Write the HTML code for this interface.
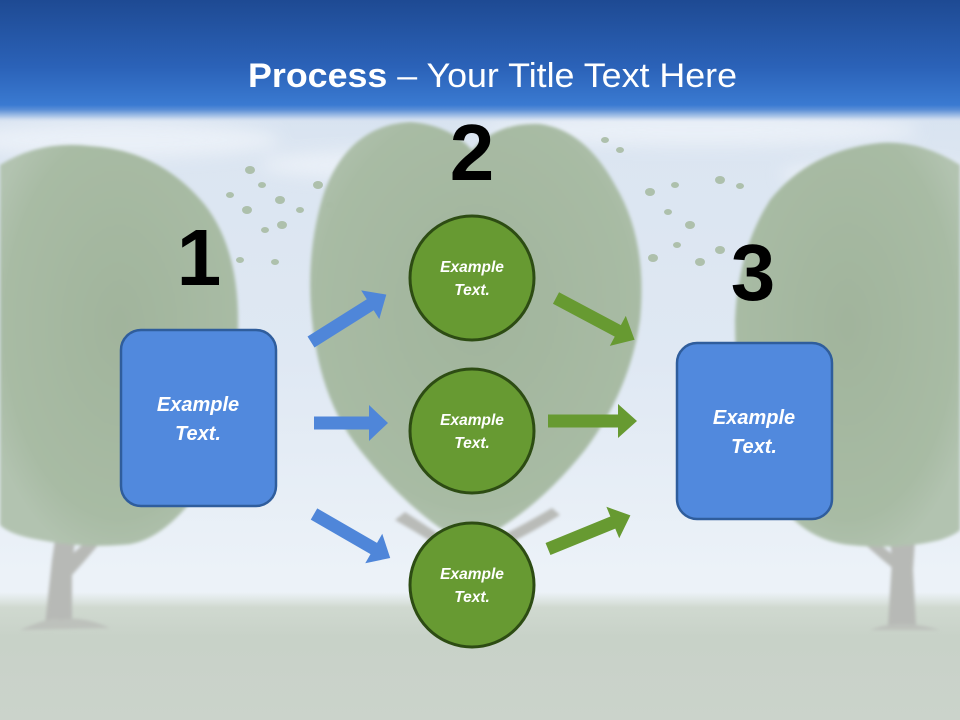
<!DOCTYPE html>
<html><head><meta charset="utf-8"><style>
html,body{margin:0;padding:0;width:960px;height:720px;overflow:hidden;background:#e6eef6;}
svg{display:block}
</style></head><body>
<svg width="960" height="720" viewBox="0 0 960 720" xmlns="http://www.w3.org/2000/svg">
<defs>
<linearGradient id="sky" x1="0" y1="0" x2="0" y2="1">
<stop offset="0" stop-color="#c9d9ee"/>
<stop offset="0.2" stop-color="#dbe5f1"/>
<stop offset="0.5" stop-color="#dfe8f3"/>
<stop offset="0.8" stop-color="#ecf2f8"/>
<stop offset="1" stop-color="#eef3f7"/>
</linearGradient>
<linearGradient id="hdr" x1="0" y1="0" x2="0" y2="1">
<stop offset="0" stop-color="#1e4a93"/>
<stop offset="0.55" stop-color="#2b62b8"/>
<stop offset="0.86" stop-color="#3a7ad1"/>
<stop offset="0.9" stop-color="#5c8fd6"/>
<stop offset="0.96" stop-color="#b4cbea"/>
<stop offset="1" stop-color="#d3dff0" stop-opacity="0"/>
</linearGradient>
<linearGradient id="grass" x1="0" y1="0" x2="0" y2="1">
<stop offset="0" stop-color="#d3dcd3" stop-opacity="0"/>
<stop offset="0.12" stop-color="#d0d9d0"/>
<stop offset="0.35" stop-color="#c8d2c8"/>
<stop offset="1" stop-color="#cbd3cb"/>
</linearGradient>
<radialGradient id="canopy" cx="0.5" cy="0.45" r="0.6">
<stop offset="0" stop-color="#a1b49c"/>
<stop offset="0.8" stop-color="#a8bba4"/>
<stop offset="1" stop-color="#b2c3b0"/>
</radialGradient>
<filter id="soft" x="-5%" y="-5%" width="110%" height="110%"><feGaussianBlur stdDeviation="1.5"/></filter>
<filter id="cloud" x="-20%" y="-50%" width="140%" height="200%"><feGaussianBlur stdDeviation="8"/></filter>
</defs>

<!-- sky -->
<rect x="0" y="0" width="960" height="720" fill="url(#sky)"/>
<g filter="url(#cloud)" fill="#eef3f9" opacity="0.8">
<ellipse cx="120" cy="140" rx="160" ry="18"/>
<ellipse cx="700" cy="130" rx="220" ry="16"/>
<ellipse cx="380" cy="165" rx="120" ry="14"/>
<ellipse cx="880" cy="175" rx="100" ry="14"/>
</g>

<!-- grass -->
<rect x="0" y="592" width="960" height="128" fill="url(#grass)"/>

<!-- left tree -->
<g filter="url(#soft)">
<path d="M45,625 L52,560 L55,540 L75,540 L72,565 L72,625 Z" fill="#b7b9b6"/>
<path d="M65,560 Q90,540 110,515 L118,520 Q95,550 72,575 Z" fill="#b7b9b6"/>
<path d="M20,630 Q55,615 60,620 Q80,615 110,628 Z" fill="#bdc1bc"/>
<path d="M0,165 Q40,140 90,146 Q160,150 205,205 Q240,250 238,330 Q236,420 200,490 Q160,545 120,545 Q80,548 40,540 Q10,535 0,525 Z" fill="url(#canopy)"/>
</g>

<!-- right tree -->
<g filter="url(#soft)">
<path d="M888,625 L892,560 L890,540 L915,540 L913,570 L916,625 Z" fill="#b7b9b6"/>
<path d="M895,570 Q870,550 850,530 L858,525 Q880,545 900,560 Z" fill="#b7b9b6"/>
<path d="M870,630 Q900,618 940,630 Z" fill="#bdc1bc"/>
<path d="M960,165 Q920,140 880,143 Q810,150 770,200 Q738,250 735,320 Q735,420 770,490 Q800,540 850,545 Q900,550 940,540 Q955,535 960,530 Z" fill="url(#canopy)"/>
</g>

<!-- center tree (heart) -->
<g filter="url(#soft)">
<path d="M460,560 L455,520 L480,520 L478,560 Z" fill="#b9bbb8"/>
<path d="M395,520 Q430,540 460,560 L465,552 Q430,528 405,512 Z" fill="#b9bbb8"/>
<path d="M560,515 Q520,540 478,558 L476,548 Q515,530 552,508 Z" fill="#b9bbb8"/>
<path d="M472,150 Q450,125 410,122 Q350,125 325,190 Q305,250 312,320 Q320,400 360,450 Q400,500 440,528 Q470,545 500,528 Q545,500 585,450 Q630,390 640,320 Q648,240 615,185 Q585,130 540,124 Q498,122 472,150 Z" fill="url(#canopy)"/>
</g>

<!-- flying leaves -->
<g fill="#a9bca5" opacity="0.9">
<ellipse cx="250" cy="170" rx="5" ry="4"/><ellipse cx="262" cy="185" rx="4" ry="3"/>
<ellipse cx="280" cy="200" rx="5" ry="4"/><ellipse cx="247" cy="210" rx="5" ry="4"/>
<ellipse cx="282" cy="225" rx="5" ry="4"/><ellipse cx="265" cy="230" rx="4" ry="3"/>
<ellipse cx="230" cy="195" rx="4" ry="3"/><ellipse cx="300" cy="210" rx="4" ry="3"/>
<ellipse cx="240" cy="260" rx="4" ry="3"/><ellipse cx="275" cy="262" rx="4" ry="3"/>
<ellipse cx="318" cy="185" rx="5" ry="4"/><ellipse cx="330" cy="205" rx="4" ry="3"/>
<ellipse cx="650" cy="192" rx="5" ry="4"/><ellipse cx="675" cy="185" rx="4" ry="3"/>
<ellipse cx="720" cy="180" rx="5" ry="4"/><ellipse cx="740" cy="186" rx="4" ry="3"/>
<ellipse cx="668" cy="212" rx="4" ry="3"/><ellipse cx="690" cy="225" rx="5" ry="4"/>
<ellipse cx="700" cy="262" rx="5" ry="4"/><ellipse cx="720" cy="250" rx="5" ry="4"/>
<ellipse cx="653" cy="258" rx="5" ry="4"/><ellipse cx="677" cy="245" rx="4" ry="3"/>
<ellipse cx="605" cy="140" rx="4" ry="3"/><ellipse cx="620" cy="150" rx="4" ry="3"/>
</g>

<!-- header -->
<rect x="0" y="0" width="960" height="122" fill="url(#hdr)"/>

<!-- title -->
<text x="248" y="87" textLength="489" lengthAdjust="spacingAndGlyphs" font-family="'Liberation Sans', sans-serif" font-size="34" fill="#ffffff"><tspan font-weight="bold">Process</tspan> – Your Title Text Here</text>

<!-- numbers -->
<g font-family="'Liberation Sans', sans-serif" font-weight="bold" font-size="80" fill="#000" text-anchor="middle">
<text x="199" y="285">1</text>
<text x="472" y="180">2</text>
<text x="753" y="300">3</text>
</g>

<!-- boxes -->
<rect x="121" y="330" width="155" height="176" rx="20" ry="20" fill="#5189dd" stroke="#2f5d9c" stroke-width="2.5"/>
<rect x="677" y="343" width="155" height="176" rx="20" ry="20" fill="#5189dd" stroke="#2f5d9c" stroke-width="2.5"/>

<!-- circles -->
<g fill="#679a32" stroke="#2d4c13" stroke-width="3">
<circle cx="472" cy="278" r="62"/>
<circle cx="472" cy="431" r="62"/>
<circle cx="472" cy="585" r="62"/>
</g>

<!-- arrows -->
<g fill="#4f86d9">
<polygon transform="translate(311,342) rotate(-32.2)" points="0,-6.5 70,-6.5 70,-17 89,0 70,17 70,6.5 0,6.5"/>
<polygon transform="translate(314,423)" points="0,-6.5 55,-6.5 55,-18 74,0 55,18 55,6.5 0,6.5"/>
<polygon transform="translate(314,514) rotate(30)" points="0,-6.5 69,-6.5 69,-17 88,0 69,17 69,6.5 0,6.5"/>
</g>
<g fill="#679a31">
<polygon transform="translate(556,298) rotate(28)" points="0,-6.5 70,-6.5 70,-17 89,0 70,17 70,6.5 0,6.5"/>
<polygon transform="translate(548,421)" points="0,-6.5 70,-6.5 70,-17 89,0 70,17 70,6.5 0,6.5"/>
<polygon transform="translate(548,549) rotate(-22.2)" points="0,-6.5 70,-6.5 70,-17 89,0 70,17 70,6.5 0,6.5"/>
</g>

<!-- labels -->
<g font-family="'Liberation Sans', sans-serif" font-weight="bold" font-style="italic" fill="#ffffff" text-anchor="middle">
<g font-size="20">
<text x="198" y="411">Example</text><text x="198" y="440">Text.</text>
<text x="754" y="424">Example</text><text x="754" y="453">Text.</text>
</g>
<g font-size="15.5">
<text x="472" y="272">Example</text><text x="472" y="295">Text.</text>
<text x="472" y="425">Example</text><text x="472" y="448">Text.</text>
<text x="472" y="579">Example</text><text x="472" y="602">Text.</text>
</g>
</g>
</svg>
</body></html>
